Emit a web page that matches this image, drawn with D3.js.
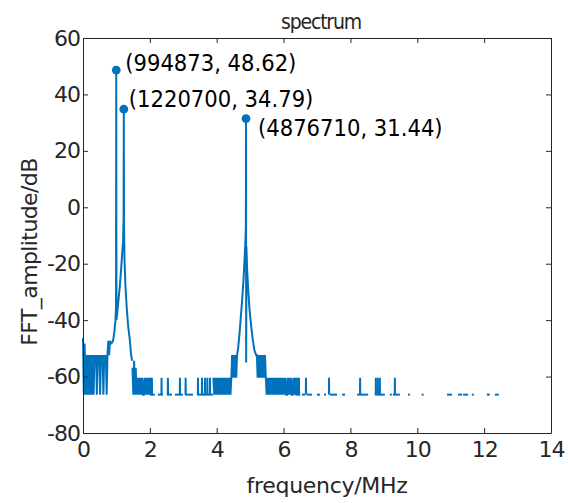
<!DOCTYPE html>
<html>
<head>
<meta charset="utf-8">
<script src="https://cdn.jsdelivr.net/npm/d3@7"></script>
<style>
	body { margin: 0; background: #fff; }
	svg text { font-family: "DejaVu Sans", sans-serif; fill: #262626; }
</style>
</head>
<body>
<svg width="568" height="503"></svg>
<script>
// ---- data ----
// labelled peaks
const peakFreqHz = [994873, 1220700, 4876710];
const peakDb = [48.62, 34.79, 31.44];

// dense noise runs: start (MHz) + values every stepMHz (4 FFT bins)
const stepMHz = 0.0244;
const noiseAStart = 0.0;
const noiseA = [-46.3, -66.4, -48.3, -66.4, -52.4, -66.4, -52.4, -66.4, -52.4, -66.4, -52.4, -66.4, -52.4, -66.4, -52.4,
	-54.4, -52.4, -66.4, -52.4, -54.4, -52.4, -66.4, -52.4, -54.4, -52.4, -66.4, -52.4, -54.4, -52.4, -66.4, -52.4,
	-47.3, -52.4, -47.3, -48.3];
const noiseBStart = 1.48;
const noiseB = [-56.9, -66.4, -54.4, -66.4, -56.9, -66.4, -60.4, -66.4, -60.4, -66.4, -60.4, -66.4, -60.4, -66.4,
	-66.4, -60.4, -66.4, -60.4, -66.4, -60.4, -66.4, -60.4, -66.4, -60.4, -66.4];
const noiseCStart = 3.90;
const noiseC = [-60.4, -66.4, -60.4, -66.4, -60.4, -66.4, -60.4, -66.4, -60.4, -66.4, -60.4, -66.4, -60.4, -66.4,
	-60.4, -66.4, -60.4, -66.4, -60.4, -66.4, -60.4, -66.4, -60.4, -52.4, -60.4, -52.4, -60.4, -52.4, -60.4, -52.4];
const noiseDStart = 5.20;
const noiseD = [-52.4, -60.4, -52.4, -60.4, -52.4, -60.4, -52.4, -60.4, -52.4, -60.4, -52.4,
	-60.4, -66.4, -60.4, -66.4, -60.4, -66.4, -60.4, -66.4, -60.4, -66.4, -60.4, -66.4, -60.4, -66.4, -60.4, -66.4,
	-60.4, -66.4, -60.4, -66.4, -60.4, -66.4, -60.4, -66.4, -60.4, -66.4, -66.4, -60.4, -66.4, -60.4, -66.4, -60.4,
	-66.4, -66.4, -60.4, -66.4, -60.4, -66.4];

// skirts around the peaks (MHz, dB)
const skirt1Freq = [0.85, 0.90, 0.94, 0.97, 0.988, 1.001, 1.02, 1.06, 1.10, 1.14, 1.18, 1.20, 1.214,
	1.227, 1.24, 1.27, 1.31, 1.35, 1.40, 1.44, 1.47];
const skirt1Db = [-48.3, -47.3, -44, -40, -36, -40, -38, -33, -28, -22, -15, -12, -4,
	-5, -18, -28, -36, -42, -47, -52.4, -54.4];
const skirt2Freq = [4.64, 4.68, 4.72, 4.76, 4.80, 4.835, 4.862, 4.872, 4.881, 4.888, 4.91, 4.94, 4.98,
	5.03, 5.08, 5.13, 5.18];
const skirt2Db = [-50, -45, -39, -33, -26, -18, -11, -7, -55, -14, -22, -29, -36, -42, -47, -50.8, -52.4];

// sparse floor: lone spikes (MHz) and short stretches of the lowest level
const floorDb = -66.4;
const spikeDb = -60.4;
const spikeFreq = [2.06, 2.35, 2.54, 2.90, 3.07, 3.44, 3.56, 3.65, 3.72, 3.80,
	6.40, 6.46, 6.67, 7.36, 8.29, 8.76, 8.82, 8.88, 9.33];
const floorRuns = [[2.00, 2.15], [2.24, 2.39], [2.51, 2.66], [2.75, 2.99], [3.05, 3.29], [3.41, 3.89],
	[6.35, 6.50], [6.55, 6.64], [6.70, 6.85], [7.00, 7.09], [7.21, 7.27], [7.39, 7.60], [7.75, 7.84],
	[8.20, 8.53], [8.73, 9.03], [9.18, 9.24], [9.27, 9.48], [9.72, 9.78], [10.13, 10.19],
	[10.89, 11.04], [11.22, 11.34], [11.37, 11.52], [11.63, 11.69], [12.08, 12.17], [12.32, 12.44]];

const xTicks = [0, 2, 4, 6, 8, 10, 12, 14];
const yTicks = [-80, -60, -40, -20, 0, 20, 40, 60];

// ---- layout ----
const plot = { left: 83, right: 551, top: 38, bottom: 433 };
const lineColor = "#0072BD";
const axisColor = "#262626";
// label placement relative to its marker (dx, dy of baseline)
const labelOffsets = [[9, 1], [5, -2], [12, 17]];

const svg = d3.select("svg");

const x = d3.scaleLinear().domain([0, 14]).range([plot.left, plot.right]);
const y = d3.scaleLinear().domain([-80, 60]).range([plot.bottom, plot.top]);

// build the runs of the spectrum line
function evenRun(start, values) {
	return values.map((v, i) => ({ f: start + i * stepMHz, v: v }));
}
function pairRun(freqs, values) {
	return freqs.map((f, i) => ({ f: f, v: values[i] }));
}
const peaks = peakFreqHz.map((f, i) => ({ f: f / 1e6, v: peakDb[i] }));

const runs = [];
runs.push(evenRun(noiseAStart, noiseA)
	.concat(pairRun(skirt1Freq, skirt1Db), peaks.slice(0, 2))
	.sort((a, b) => a.f - b.f));
runs.push(evenRun(noiseBStart, noiseB));
runs.push(evenRun(noiseCStart, noiseC)
	.concat(pairRun(skirt2Freq, skirt2Db), [peaks[2]], evenRun(noiseDStart, noiseD))
	.sort((a, b) => a.f - b.f));
floorRuns.forEach((r) => runs.push([{ f: r[0], v: floorDb }, { f: r[1], v: floorDb }]));
spikeFreq.forEach((s) => runs.push([
	{ f: s - 0.004, v: floorDb }, { f: s, v: spikeDb }, { f: s + 0.004, v: floorDb }
]));

const line = d3.line()
	.x((d) => x(d.f))
	.y((d) => y(d.v));

svg.append("g")
	.selectAll("path")
	.data(runs)
	.join("path")
	.attr("d", line)
	.attr("fill", "none")
	.attr("stroke", lineColor)
	.attr("stroke-width", 2);

// peak markers + data tips
svg.append("g")
	.selectAll("circle")
	.data(peaks)
	.join("circle")
	.attr("cx", (d) => x(d.f))
	.attr("cy", (d) => y(d.v))
	.attr("r", 4.4)
	.attr("fill", lineColor);

svg.append("g")
	.selectAll("text")
	.data(peaks)
	.join("text")
	.attr("x", (d, i) => x(d.f) + labelOffsets[i][0])
	.attr("y", (d, i) => y(d.v) + labelOffsets[i][1])
	.style("font-family", "'DejaVu Sans Condensed', 'DejaVu Sans', sans-serif")
	.style("font-size", "23.5px")
	.style("fill", "#000")
	.text((d, i) => `(${peakFreqHz[i]}, ${peakDb[i].toFixed(2)})`);

// axes, ticks pointing inward on all four sides
function styleAxis(g) {
	g.select(".domain").attr("stroke", axisColor);
	g.selectAll(".tick line").attr("stroke", axisColor);
	g.selectAll(".tick text")
		.attr("fill", axisColor)
		.style("font-family", "'DejaVu Sans', sans-serif")
		.style("font-size", "22px")
		.style("letter-spacing", "-1px");
}
const plainNum = (d) => String(d);

svg.append("g")
	.attr("transform", `translate(0,${plot.bottom})`)
	.call(d3.axisBottom(x).tickValues(xTicks).tickFormat(plainNum)
		.tickSizeInner(-5).tickSizeOuter(0).tickPadding(8))
	.call(styleAxis);
svg.append("g")
	.attr("transform", `translate(0,${plot.top})`)
	.call(d3.axisTop(x).tickValues(xTicks).tickSizeInner(-5).tickSizeOuter(0).tickFormat(""))
	.call(styleAxis);
svg.append("g")
	.attr("transform", `translate(${plot.left},0)`)
	.call(d3.axisLeft(y).tickValues(yTicks).tickFormat(plainNum)
		.tickSizeInner(-5).tickSizeOuter(0).tickPadding(3))
	.call(styleAxis);
svg.append("g")
	.attr("transform", `translate(${plot.right},0)`)
	.call(d3.axisRight(y).tickValues(yTicks).tickSizeInner(-5).tickSizeOuter(0).tickFormat(""))
	.call(styleAxis);

// title and axis labels
svg.append("text")
	.attr("x", 321)
	.attr("y", 29)
	.attr("text-anchor", "middle")
	.style("font-family", "'DejaVu Sans Condensed', 'DejaVu Sans', sans-serif")
	.style("font-size", "21px")
	.style("letter-spacing", "-1.2px")
	.text("spectrum");

svg.append("text")
	.attr("x", 327)
	.attr("y", 493)
	.attr("text-anchor", "middle")
	.style("font-size", "22px")
	.style("letter-spacing", "-0.3px")
	.text("frequency/MHz");

svg.append("text")
	.attr("transform", "translate(37,252) rotate(-90)")
	.attr("text-anchor", "middle")
	.style("font-size", "22px")
	.style("letter-spacing", "-0.6px")
	.text("FFT_amplitude/dB");
</script>
</body>
</html>
